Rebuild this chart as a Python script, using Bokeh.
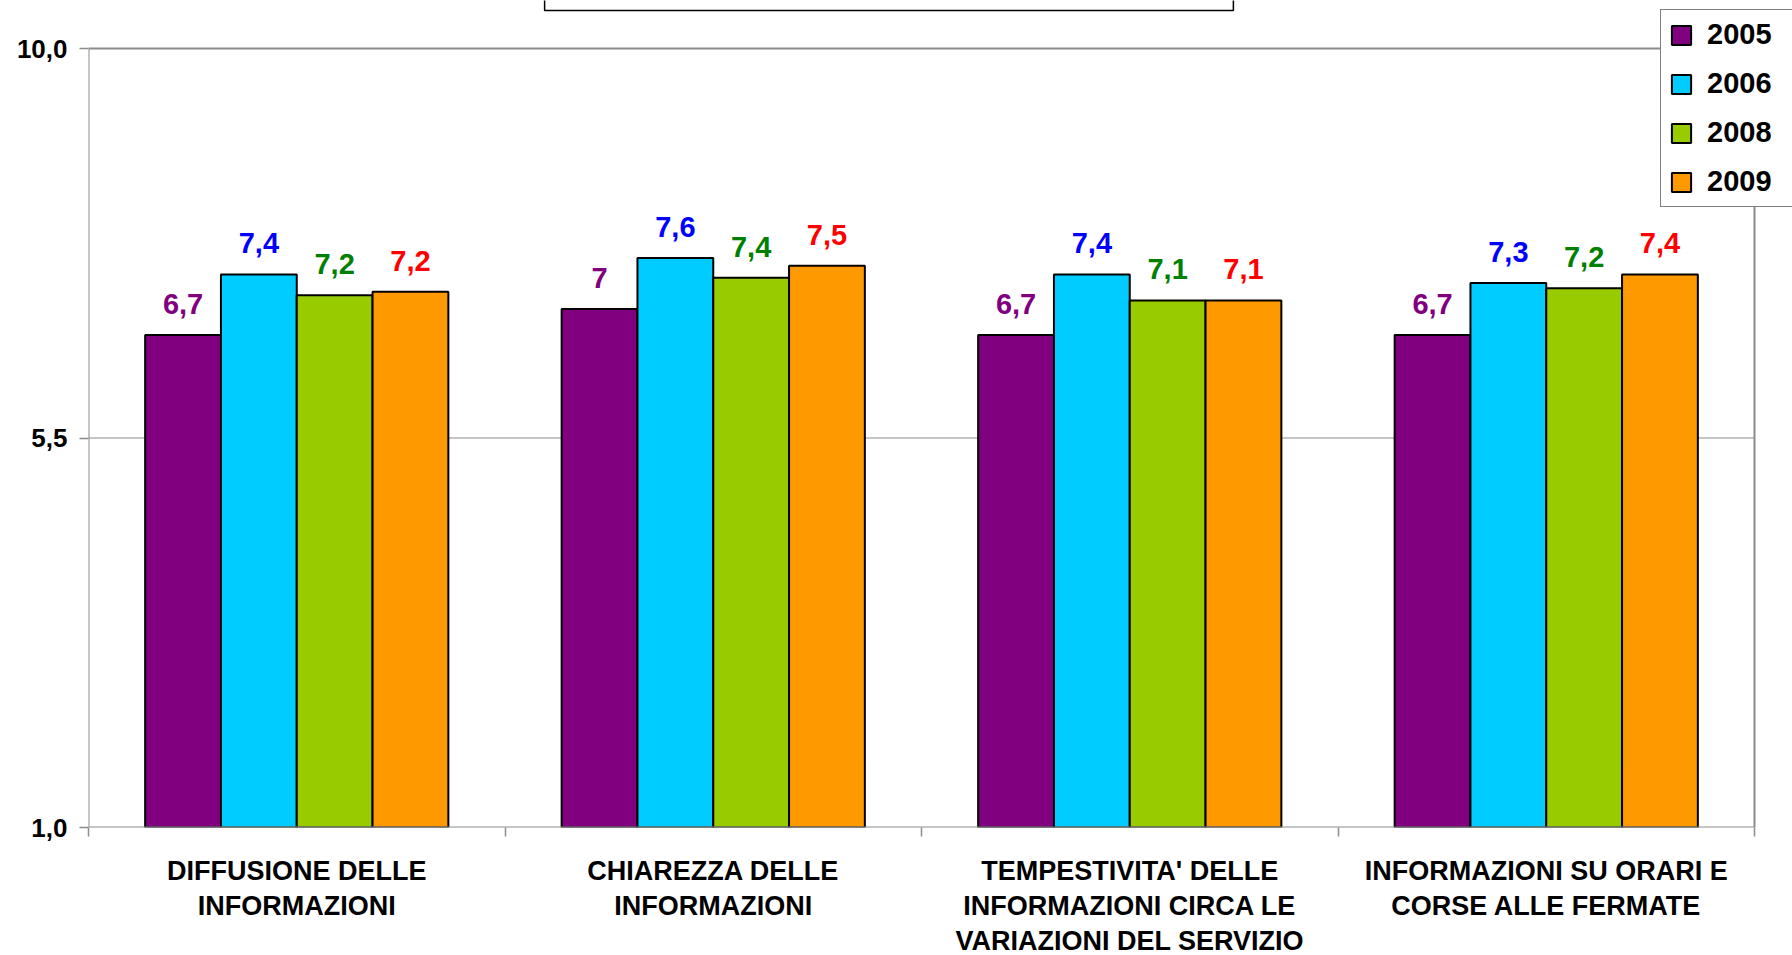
from bokeh.plotting import figure
from bokeh.models import (Range1d, FixedTicker, ColumnDataSource, Legend,
                          LegendItem, Label)
from bokeh.transform import dodge
from bokeh.core.properties import value
from bokeh.embed import file_html
from bokeh.resources import INLINE

# ---------------- data ----------------
categories = [
    "DIFFUSIONE DELLE\nINFORMAZIONI",
    "CHIAREZZA DELLE\nINFORMAZIONI",
    "TEMPESTIVITA' DELLE\nINFORMAZIONI CIRCA LE\nVARIAZIONI DEL SERVIZIO",
    "INFORMAZIONI SU ORARI E\nCORSE ALLE FERMATE",
]
years = ["2005", "2006", "2008", "2009"]
v2005 = [6.69, 6.99, 6.69, 6.69]
v2006 = [7.39, 7.58, 7.39, 7.29]
v2008 = [7.15, 7.35, 7.09, 7.23]
v2009 = [7.19, 7.49, 7.09, 7.39]
l2005 = ["6,7", "7", "6,7", "6,7"]
l2006 = ["7,4", "7,6", "7,4", "7,3"]
l2008 = ["7,2", "7,4", "7,1", "7,2"]
l2009 = ["7,2", "7,5", "7,1", "7,4"]
y_ticks = [1.0, 5.5, 10.0]
y_tick_labels = ["1,0", "5,5", "10,0"]

bar_colors = ["#800080", "#00CCFF", "#99CC00", "#FF9900"]
label_colors = ["#800080", "#0000FF", "#008000", "#FF0000"]
offsets = [-0.273, -0.091, 0.091, 0.273]
bar_width = 0.182

FONT = "Liberation Sans"
GRAY = "#8c8c8c"

# ---------------- layout (pixels) ----------------
FRAME_W, FRAME_H = 1704, 827      # drawing region (extends to page top/right)
PLOT_W, PLOT_H = 1666, 779        # visible plot area inside it
n = len(categories)
y0, y1 = y_ticks[0], y_ticks[-1]
x_end = n * FRAME_W / PLOT_W
y_end = y0 + (y1 - y0) * FRAME_H / PLOT_H
px_y = (y1 - y0) / PLOT_H         # data units per pixel (y)
px_x = n / PLOT_W                 # data units per pixel (x)

cat_pos = [i + 0.5 for i in range(n)]
series_values = [v2005, v2006, v2008, v2009]
series_labels = [l2005, l2006, l2008, l2009]

p = figure(frame_width=FRAME_W, frame_height=FRAME_H,
           x_range=Range1d(0, x_end), y_range=Range1d(y0, y_end),
           output_backend="svg", toolbar_location=None,
           min_border_left=88, min_border_top=0, min_border_right=0,
           min_border_bottom=100)
p.background_fill_color = "white"
p.border_fill_color = "white"
p.outline_line_color = None

# grid line(s) inside the plot area
inner = y_ticks[1:-1]
p.segment(x0=[0] * len(inner), x1=[n] * len(inner), y0=inner, y1=inner,
          line_color=GRAY, line_width=1)

items = []
for yr, vals, lbls, bc, lc, off in zip(years, series_values, series_labels,
                                       bar_colors, label_colors, offsets):
    src = ColumnDataSource(dict(x=cat_pos, v=vals, lbl=lbls))
    r = p.vbar(x=dodge("x", off, range=p.x_range), top="v", bottom=y0,
               width=bar_width, source=src, fill_color=bc,
               line_color="black", line_width=2)
    p.text(x=dodge("x", off, range=p.x_range), y="v", text="lbl", source=src,
           text_color=lc, text_font=value(FONT), text_font_style="bold",
           text_font_size="29px", text_align="center",
           text_baseline="alphabetic", y_offset=-31)
    items.append(LegendItem(label=yr, renderers=[r]))

# plot-area border (axes lines + top/right outline)
p.quad(left=0, right=n, bottom=y0, top=y1, fill_color=None,
       line_color=GRAY, line_width=2)

# axes
p.xaxis.ticker = FixedTicker(ticks=cat_pos, minor_ticks=list(range(n + 1)))
p.xaxis.major_label_overrides = {pos: c for pos, c in zip(cat_pos, categories)}
p.xaxis.major_tick_out = 0
p.xaxis.major_tick_in = 0
p.xaxis.major_tick_line_color = None
p.xaxis.minor_tick_out = 9
p.xaxis.minor_tick_in = 0
p.xaxis.minor_tick_line_color = GRAY
p.xaxis.minor_tick_line_width = 1.5
p.xaxis.axis_line_color = None
p.xaxis.major_label_standoff = 19
p.xaxis.major_label_text_font = FONT
p.xaxis.major_label_text_font_style = "bold"
p.xaxis.major_label_text_font_size = "27px"
p.xaxis.major_label_text_color = "black"
p.xaxis.major_label_text_line_height = 1.17

p.yaxis.ticker = FixedTicker(ticks=y_ticks)
p.yaxis.major_label_overrides = {t: s for t, s in zip(y_ticks, y_tick_labels)}
p.yaxis.major_tick_out = 9
p.yaxis.major_tick_in = 0
p.yaxis.major_tick_line_color = GRAY
p.yaxis.major_tick_line_width = 1.5
p.yaxis.minor_tick_line_color = None
p.yaxis.axis_line_color = None
p.yaxis.major_label_standoff = 12
p.yaxis.major_label_text_font = FONT
p.yaxis.major_label_text_font_style = "bold"
p.yaxis.major_label_text_font_size = "26px"
p.yaxis.major_label_text_color = "black"

p.xgrid.grid_line_color = None
p.ygrid.grid_line_color = None

legend = Legend(items=items, location=(1572, 620),
                label_text_font=FONT, label_text_font_style="bold",
                label_text_font_size="29px", label_text_color="black",
                glyph_width=24, glyph_height=24, label_height=30,
                label_standoff=14, label_width=110, spacing=16, padding=8,
                margin=0, border_line_color="black", border_line_width=1.5,
                background_fill_color="white", background_fill_alpha=1)
p.add_layout(legend)

# remnant of the (clipped) title box at the top of the page
title_box = Label(x=800.5 * px_x, y=y_end - 10 * px_y, text="\u00a0",
                  text_font_size="10px", anchor="bottom_center", padding=343,
                  border_line_color="black", border_line_width=1.5,
                  background_fill_color="white")
p.add_layout(title_box)

open("out.html", "w").write(file_html(p, INLINE))
